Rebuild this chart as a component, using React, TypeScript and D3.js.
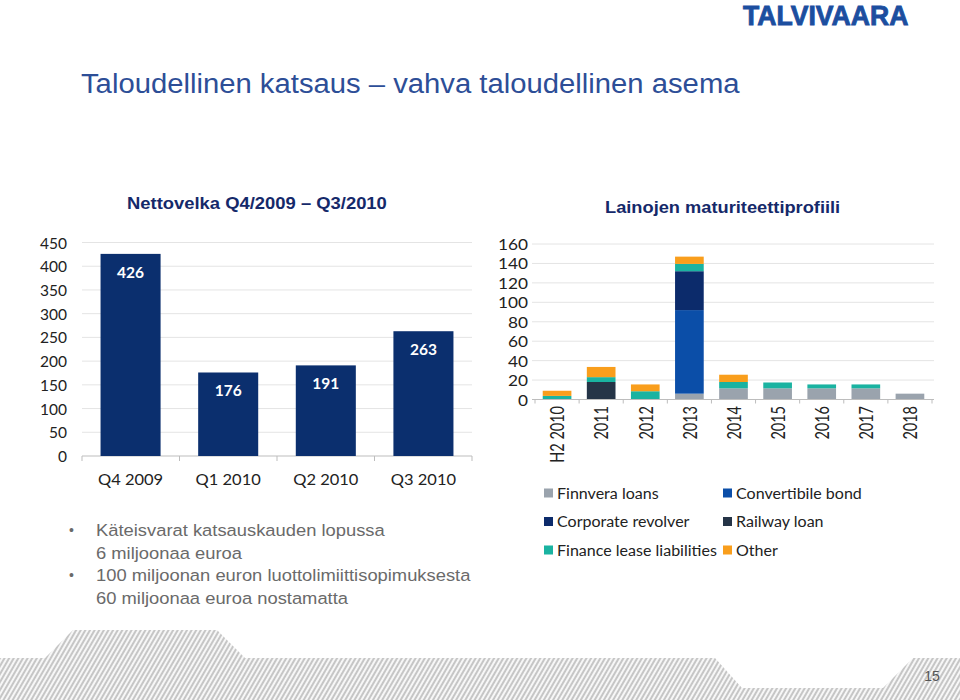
import React from "react";
import * as d3 from "d3";

// ---------- data ----------
const netDebtCategories = ["Q4 2009", "Q1 2010", "Q2 2010", "Q3 2010"];
const netDebtValues = [426, 176, 191, 263];
const netDebtTicks = [0, 50, 100, 150, 200, 250, 300, 350, 400, 450];

const maturityYears = ["H2 2010", "2011", "2012", "2013", "2014", "2015", "2016", "2017", "2018"];
const finnveraLoans = [0, 0, 0, 6, 11.5, 11.5, 11.5, 11.5, 6];
const convertibleBond = [0, 0, 0, 86, 0, 0, 0, 0, 0];
const corporateRevolver = [0, 0, 0, 40, 0, 0, 0, 0, 0];
const railwayLoan = [0, 18, 0, 0, 0, 0, 0, 0, 0];
const financeLease = [3.7, 5, 8.5, 7.5, 6.5, 6, 4, 4, 0];
const otherLoans = [5.3, 10.5, 7, 7.5, 7.5, 0, 0, 0, 0];
const maturityTicks = [0, 20, 40, 60, 80, 100, 120, 140, 160];

const seriesKeys = ["finnvera", "convertible", "revolver", "railway", "lease", "other"];
const seriesLabels = [
  "Finnvera loans",
  "Convertibile bond",
  "Corporate revolver",
  "Railway loan",
  "Finance lease liabilities",
  "Other",
];
const seriesColors = ["#9AA3AD", "#0B4EA8", "#0C2B6B", "#253447", "#1AB3A1", "#F99E1C"];

const bulletLines = [
  { bullet: true, text: "Käteisvarat katsauskauden lopussa" },
  { bullet: false, text: "6 miljoonaa euroa" },
  { bullet: true, text: "100 miljoonan euron luottolimiittisopimuksesta" },
  { bullet: false, text: "60 miljoonaa euroa nostamatta" },
];

// ---------- helpers ----------
type TProps = {
  x: number;
  y: number;
  sx?: number;
  anchor?: "start" | "middle" | "end";
  rotate?: number;
  style?: React.CSSProperties;
  fill?: string;
  baseline?: string;
  children: React.ReactNode;
};
function T({ x, y, sx = 1, anchor = "start", rotate = 0, style, fill, baseline, children }: TProps) {
  return (
    <text
      transform={`translate(${x},${y}) scale(${sx},1)${rotate ? ` rotate(${rotate})` : ""}`}
      textAnchor={anchor}
      dominantBaseline={baseline as any}
      fill={fill}
      style={style}
    >
      {children}
    </text>
  );
}

const CAL = "Lato, 'Open Sans', sans-serif";
const ARIAL = "'Liberation Sans', Arial, sans-serif";

export default function App() {
  // left chart
  const lx = d3.scaleBand<string>().domain(netDebtCategories).range([82, 472]).paddingInner(0.385).paddingOuter(0.19);
  const ly = d3.scaleLinear().domain([0, 450]).range([456, 242.5]);
  const lBounds = d3.range(netDebtCategories.length + 1).map((i) => 82 + i * (390 / netDebtCategories.length));

  // right chart
  const rx = d3.scaleBand<string>().domain(maturityYears).range([535, 932]).paddingInner(0.35).paddingOuter(0.175);
  const ry = d3.scaleLinear().domain([0, 160]).range([399.5, 244]);
  const rBounds = d3.range(maturityYears.length + 1).map((i) => 535 + i * (397 / maturityYears.length));

  const table = maturityYears.map((yr, i) => ({
    year: yr,
    finnvera: finnveraLoans[i],
    convertible: convertibleBond[i],
    revolver: corporateRevolver[i],
    railway: railwayLoan[i],
    lease: financeLease[i],
    other: otherLoans[i],
  }));
  const stacked = d3.stack<any>().keys(seriesKeys)(table);

  const hatchPts: [number, number][] = [
    [0, 658], [45, 658], [73, 630], [217, 630], [245, 658], [715, 658], [742, 688],
    [883, 688], [913, 658], [960, 658], [960, 700], [0, 700],
  ];
  const hatchPath = d3.line()(hatchPts) + "Z";

  return (
    <svg width={960} height={700} style={{ position: "absolute", left: 0, top: 0, background: "#fff" }}>
      <defs>
        <pattern id="hatch" patternUnits="userSpaceOnUse" width={4} height={10} patternTransform="rotate(30)">
          <rect width={4} height={10} fill="#f7f7f7" />
          <line x1={1} y1={0} x2={1} y2={10} stroke="#acacac" strokeWidth={1.3} />
        </pattern>
      </defs>
      <rect x={0} y={0} width={960} height={700} fill="#fff" />

      {/* logo */}
      <T x={743} y={24.5} sx={0.95} fill="#1C4E9F" style={{ fontFamily: ARIAL, fontWeight: 700, fontSize: 28 }}>
        <tspan stroke="#1C4E9F" strokeWidth={0.9}>TALVIVAARA</tspan>
      </T>

      {/* main title */}
      <T x={81} y={93} sx={1.045} fill="#2D4E97" style={{ fontFamily: ARIAL, fontSize: 28 }}>
        Taloudellinen katsaus – vahva taloudellinen asema
      </T>

      {/* subtitles */}
      <T x={127} y={209} sx={1.13} fill="#15296A" style={{ fontFamily: ARIAL, fontSize: 16.3, fontWeight: 700 }}>
        Nettovelka Q4/2009 – Q3/2010
      </T>
      <T x={605} y={213} sx={1.12} fill="#15296A" style={{ fontFamily: ARIAL, fontSize: 16.3, fontWeight: 700 }}>
        Lainojen maturiteettiprofiili
      </T>

      {/* ---------- left chart ---------- */}
      <g>
        {netDebtTicks.map((t) => (
          <g key={t}>
            {t > 0 && <line x1={82} x2={472} y1={ly(t)} y2={ly(t)} stroke="#E4E4E4" strokeWidth={1} />}
            <T x={67} y={ly(t)} anchor="end" baseline="central" fill="#222" style={{ fontFamily: CAL, fontSize: 15.5 }}>
              {t}
            </T>
          </g>
        ))}
        <line x1={82} x2={472} y1={ly(0)} y2={ly(0)} stroke="#BDBDBD" strokeWidth={1} />
        {lBounds.map((b, i) => (
          <line key={i} x1={b} x2={b} y1={ly(0)} y2={ly(0) + 5} stroke="#BDBDBD" strokeWidth={1} />
        ))}
        {netDebtCategories.map((c, i) => (
          <g key={c}>
            <rect x={lx(c)} y={ly(netDebtValues[i])} width={lx.bandwidth()} height={ly(0) - ly(netDebtValues[i])} fill="#0B2F6E" />
            <T x={(lx(c) as number) + lx.bandwidth() / 2} y={ly(netDebtValues[i]) + 18} anchor="middle" baseline="central" fill="#fff" style={{ fontFamily: CAL, fontSize: 15.5, fontWeight: 700 }}>
              {netDebtValues[i]}
            </T>
            <T x={(lx(c) as number) + lx.bandwidth() / 2} y={485} sx={1.03} anchor="middle" fill="#222" style={{ fontFamily: CAL, fontSize: 16 }}>
              {c}
            </T>
          </g>
        ))}
      </g>

      {/* ---------- right chart ---------- */}
      <g>
        {maturityTicks.map((t) => (
          <g key={t}>
            {t > 0 && <line x1={532} x2={934} y1={ry(t)} y2={ry(t)} stroke="#E4E4E4" strokeWidth={1} />}
            <T x={528} y={ry(t)} sx={1.15} anchor="end" baseline="central" fill="#222" style={{ fontFamily: CAL, fontSize: 15 }}>
              {t}
            </T>
          </g>
        ))}
        {stacked.map((s, si) => (
          <g key={s.key} fill={seriesColors[si]}>
            {s.map((d, i) =>
              d[1] - d[0] > 0 ? (
                <rect key={i} x={rx(maturityYears[i])} y={ry(d[1])} width={rx.bandwidth()} height={ry(d[0]) - ry(d[1])} />
              ) : null
            )}
          </g>
        ))}
        <line x1={532} x2={934} y1={ry(0)} y2={ry(0)} stroke="#BDBDBD" strokeWidth={1} />
        {rBounds.map((b, i) => (
          <line key={i} x1={b} x2={b} y1={ry(0)} y2={ry(0) + 4} stroke="#BDBDBD" strokeWidth={1} />
        ))}
        {maturityYears.map((yr) => (
          <T key={yr} x={(rx(yr) as number) + rx.bandwidth() / 2} y={406} sx={1.3} rotate={-90} anchor="end" baseline="central" fill="#222" style={{ fontFamily: CAL, fontSize: 14.5 }}>
            {yr}
          </T>
        ))}
      </g>

      {/* legend */}
      {seriesLabels.map((lab, i) => {
        const col = i % 2;
        const row = Math.floor(i / 2);
        const x = col === 0 ? 544 : 723;
        const y = 493 + row * 28.5;
        return (
          <g key={lab}>
            <rect x={x} y={y - 4.5} width={9} height={9} fill={seriesColors[i]} />
            <T x={x + 13} y={y} sx={1.07} baseline="central" fill="#222" style={{ fontFamily: CAL, fontSize: 15 }}>
              {lab}
            </T>
          </g>
        );
      })}

      {/* bullets */}
      {bulletLines.map((l, i) => {
        const y = 536 + i * 22.5;
        return (
          <g key={i}>
            {l.bullet && (
              <T x={69} y={y - 1} fill="#6A6A6A" style={{ fontFamily: ARIAL, fontSize: 14 }}>
                •
              </T>
            )}
            <T x={96} y={y} sx={1.08} fill="#6A6A6A" style={{ fontFamily: ARIAL, fontSize: 17 }}>
              {l.text}
            </T>
          </g>
        );
      })}

      {/* bottom hatch band */}
      <path d={hatchPath} fill="url(#hatch)" />
      <T x={932} y={681} anchor="middle" fill="#555" style={{ fontFamily: "'Liberation Sans Narrow', 'Liberation Sans', Arial, sans-serif", fontSize: 14 }}>
        15
      </T>
    </svg>
  );
}
